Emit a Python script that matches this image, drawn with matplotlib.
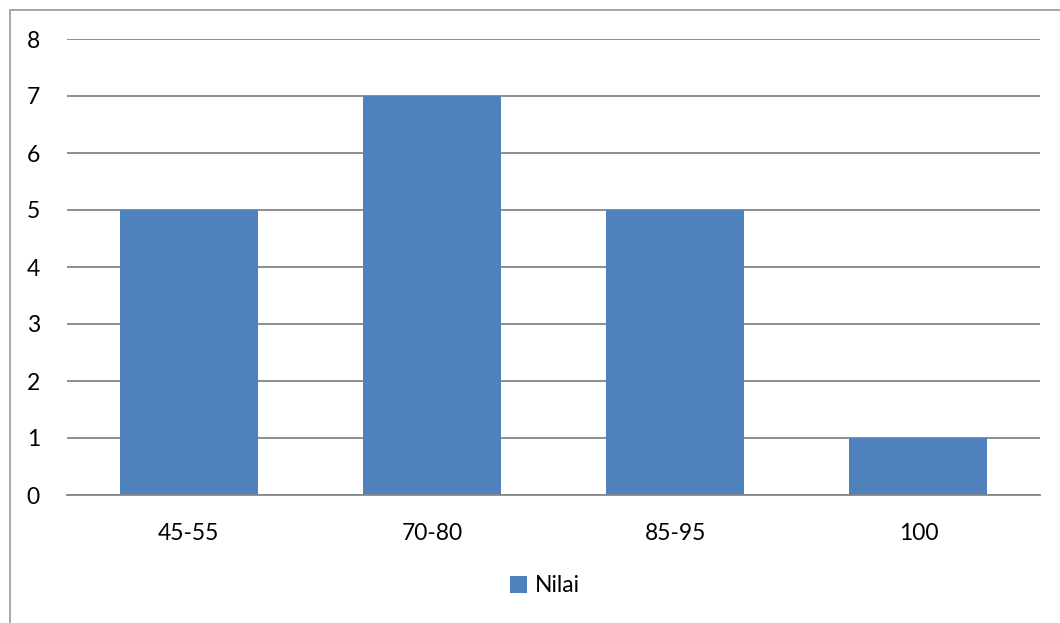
import matplotlib
matplotlib.use("Agg")
import matplotlib.pyplot as plt
from matplotlib.patches import Rectangle

categories = ["45-55", "70-80", "85-95", "100"]
values = [5, 7, 5, 1]
series_name = "Nilai"

W, H, DPI = 1060, 623, 100
BAR = "#4F81BD"
GRID = "#868686"

plt.rcParams["font.family"] = ["Lato", "DejaVu Sans"]

fig = plt.figure(figsize=(W / DPI, H / DPI), dpi=DPI)
fig.patch.set_facecolor("white")

# outer chart frame (right/bottom edges fall off the image)
fig.patches.append(Rectangle((10 / W, -0.1), 2.0, 1 - 10 / H + 0.1,
                             transform=fig.transFigure, fill=False,
                             edgecolor="#A6A6A6", lw=1.4))

ax = fig.add_axes([67 / W, 1 - 495 / H, (1040 - 67) / W, (495 - 39) / H])
x = range(len(categories))
ax.bar(x, values, width=0.567, color=BAR, label=series_name, zorder=3)
ax.set_xlim(-0.5, len(categories) - 0.5)
ax.set_ylim(0, 8)
ax.set_yticks(range(0, 9))
ax.set_xticks(list(x))
ax.set_xticklabels(categories)
ax.yaxis.grid(True, color=GRID, lw=1.3, zorder=0)
for s in ["top", "right", "left"]:
    ax.spines[s].set_visible(False)
ax.spines["bottom"].set_color(GRID)
ax.spines["bottom"].set_linewidth(1.3)
ax.spines["bottom"].set_zorder(4)
ax.tick_params(axis="both", length=0, labelsize=16.5, colors="black")
ax.tick_params(axis="y", pad=19.5)
ax.tick_params(axis="x", pad=20)

fig.legend(loc="center", bbox_to_anchor=(545 / W, 1 - 586 / H), frameon=False,
           fontsize=16.5, handlelength=0.7, handleheight=0.7, handletextpad=0.35)

fig.savefig("out.png", dpi=DPI)
